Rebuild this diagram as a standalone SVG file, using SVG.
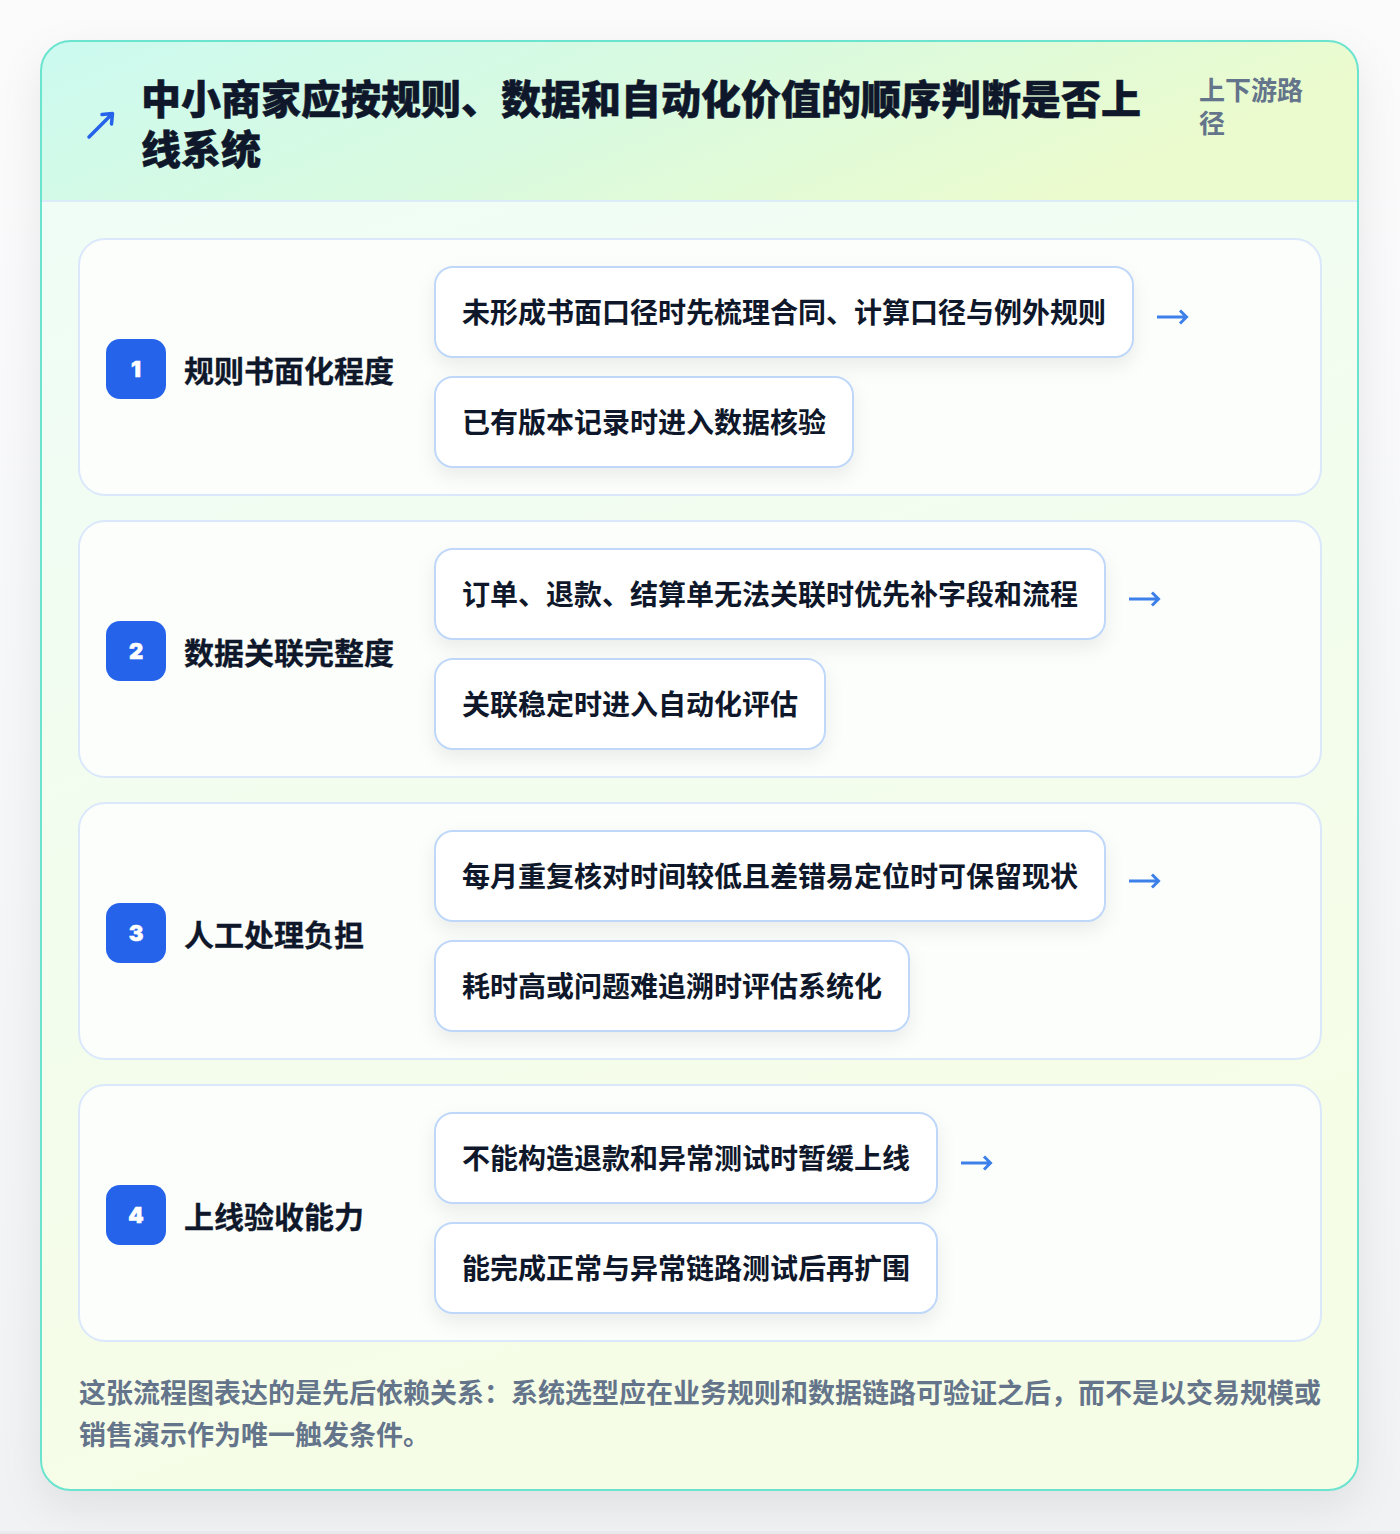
<svg xmlns="http://www.w3.org/2000/svg" width="1400" height="1534" viewBox="0 0 1400 1534">
  <defs>
    <linearGradient id="pageBg" x1="0" y1="0" x2="0" y2="1">
      <stop offset="0" stop-color="#fbfbfc"/>
      <stop offset="1" stop-color="#f1f2f4"/>
    </linearGradient>
    <linearGradient id="headBg" x1="0" y1="0" x2="1" y2="0.3">
      <stop offset="0" stop-color="#ccfaf0"/>
      <stop offset="0.5" stop-color="#d8fae0"/>
      <stop offset="1" stop-color="#ecfbcd"/>
    </linearGradient>
    <linearGradient id="bodyBg" x1="0" y1="0" x2="0.3" y2="1">
      <stop offset="0" stop-color="#effdf8"/>
      <stop offset="1" stop-color="#f6fde6"/>
    </linearGradient>
    <clipPath id="cardClip">
      <rect x="41" y="41" width="1317" height="1449" rx="30"/>
    </clipPath>
    <filter id="cardShadow" x="-10%" y="-10%" width="120%" height="120%">
      <feDropShadow dx="0" dy="16" stdDeviation="20" flood-color="#0f172a" flood-opacity="0.08"/>
    </filter>
    <filter id="boxShadow" x="-10%" y="-30%" width="120%" height="170%">
      <feDropShadow dx="0" dy="8" stdDeviation="9" flood-color="#0f172a" flood-opacity="0.07"/>
    </filter>
    <style>
      .cjk { font-family: "Noto Sans CJK SC", "Noto Sans", "Liberation Sans", sans-serif; font-weight: 700; }
      .title { font-size: 40px; fill: #0f172a; font-weight: 900; stroke: #0f172a; stroke-width: 0.5; }
      .tag { font-size: 26px; fill: #64748b; }
      .row { fill: #fdfefd; fill-opacity: 0.9; stroke: #dbe8fb; stroke-width: 2; }
      .badge { fill: #2563eb; }
      .num { font-family: Inter, "Liberation Sans", sans-serif; font-weight: 900; font-size: 22px; fill: #ffffff; stroke: #ffffff; stroke-width: 0.5; text-anchor: middle; }
      .label { font-size: 30px; fill: #0f172a; stroke: #0f172a; stroke-width: 0.3; }
      .opt { fill: #ffffff; stroke: #bfd7f8; stroke-width: 2; }
      .opttext { font-size: 28px; fill: #0f172a; }
      .arr { fill: none; stroke: #3d80ea; stroke-width: 3; stroke-linecap: butt; stroke-linejoin: miter; }
      .icon { fill: none; stroke: #2563eb; stroke-width: 3.5; stroke-linecap: round; stroke-linejoin: round; }
      .foot { font-size: 27px; fill: #64748b; }
    </style>
  </defs>

  <rect x="0" y="0" width="1400" height="1534" fill="url(#pageBg)"/>
  <rect x="0" y="1531" width="1400" height="3" fill="#e9ebee"/>

  <g id="card">
    <rect x="41" y="41" width="1317" height="1449" rx="30" fill="url(#bodyBg)" filter="url(#cardShadow)"/>
    <g clip-path="url(#cardClip)">
      <rect x="41" y="41" width="1317" height="160" fill="url(#headBg)"/>
      <rect x="41" y="200" width="1317" height="2" fill="#dcebf8"/>
    </g>
    <rect x="41" y="41" width="1317" height="1449" rx="30" fill="none" stroke="#6ae4cf" stroke-width="2"/>
  </g>

  <g id="header">
    <path class="icon" d="M89 137 L112 114 M102 114.5 L112.5 113.5 L111.5 124"/>
    <text class="cjk title" x="141" y="114">中小商家应按规则、数据和自动化价值的顺序判断是否上</text>
    <text class="cjk title" x="141" y="164">线系统</text>
    <text class="cjk tag" x="1199" y="100">上下游路</text>
    <text class="cjk tag" x="1199" y="133">径</text>
  </g>

  <g id="step1">
    <rect class="row" x="79" y="239" width="1242" height="256" rx="26"/>
    <rect class="badge" x="106" y="339" width="60" height="60" rx="14"/>
    <text class="num" x="136" y="377">1</text>
    <text class="cjk label" x="184" y="382">规则书面化程度</text>
    <g id="step1-a">
      <rect class="opt" x="435" y="267" width="698" height="90" rx="18" filter="url(#boxShadow)"/>
      <text class="cjk opttext" x="462" y="323">未形成书面口径时先梳理合同、计算口径与例外规则</text>
    </g>
    <g id="step1-b">
      <rect class="opt" x="435" y="377" width="418" height="90" rx="18" filter="url(#boxShadow)"/>
      <text class="cjk opttext" x="462" y="433">已有版本记录时进入数据核验</text>
    </g>
  </g>

  <g id="step2">
    <rect class="row" x="79" y="521" width="1242" height="256" rx="26"/>
    <rect class="badge" x="106" y="621" width="60" height="60" rx="14"/>
    <text class="num" x="136" y="659">2</text>
    <text class="cjk label" x="184" y="664">数据关联完整度</text>
    <g id="step2-a">
      <rect class="opt" x="435" y="549" width="670" height="90" rx="18" filter="url(#boxShadow)"/>
      <text class="cjk opttext" x="462" y="605">订单、退款、结算单无法关联时优先补字段和流程</text>
    </g>
    <g id="step2-b">
      <rect class="opt" x="435" y="659" width="390" height="90" rx="18" filter="url(#boxShadow)"/>
      <text class="cjk opttext" x="462" y="715">关联稳定时进入自动化评估</text>
    </g>
  </g>

  <g id="step3">
    <rect class="row" x="79" y="803" width="1242" height="256" rx="26"/>
    <rect class="badge" x="106" y="903" width="60" height="60" rx="14"/>
    <text class="num" x="136" y="941">3</text>
    <text class="cjk label" x="184" y="946">人工处理负担</text>
    <g id="step3-a">
      <rect class="opt" x="435" y="831" width="670" height="90" rx="18" filter="url(#boxShadow)"/>
      <text class="cjk opttext" x="462" y="887">每月重复核对时间较低且差错易定位时可保留现状</text>
    </g>
    <g id="step3-b">
      <rect class="opt" x="435" y="941" width="474" height="90" rx="18" filter="url(#boxShadow)"/>
      <text class="cjk opttext" x="462" y="997">耗时高或问题难追溯时评估系统化</text>
    </g>
  </g>

  <g id="step4">
    <rect class="row" x="79" y="1085" width="1242" height="256" rx="26"/>
    <rect class="badge" x="106" y="1185" width="60" height="60" rx="14"/>
    <text class="num" x="136" y="1223">4</text>
    <text class="cjk label" x="184" y="1228">上线验收能力</text>
    <g id="step4-a">
      <rect class="opt" x="435" y="1113" width="502" height="90" rx="18" filter="url(#boxShadow)"/>
      <text class="cjk opttext" x="462" y="1169">不能构造退款和异常测试时暂缓上线</text>
    </g>
    <g id="step4-b">
      <rect class="opt" x="435" y="1223" width="502" height="90" rx="18" filter="url(#boxShadow)"/>
      <text class="cjk opttext" x="462" y="1279">能完成正常与异常链路测试后再扩围</text>
    </g>
  </g>

  <g id="connectors">
    <path class="arr" d="M1157 317 H1186 M1180 310.5 L1186.5 317 L1180 323.5"/>
    <path class="arr" d="M1129 599 H1158 M1152 592.5 L1158.5 599 L1152 605.5"/>
    <path class="arr" d="M1129 881 H1158 M1152 874.5 L1158.5 881 L1152 887.5"/>
    <path class="arr" d="M961 1163 H990 M984 1156.5 L990.5 1163 L984 1169.5"/>
  </g>

  <g id="footer">
    <text class="cjk foot" x="79" y="1403">这张流程图表达的是先后依赖关系：系统选型应在业务规则和数据链路可验证之后，而不是以交易规模或</text>
    <text class="cjk foot" x="79" y="1445">销售演示作为唯一触发条件。</text>
  </g>
</svg>
